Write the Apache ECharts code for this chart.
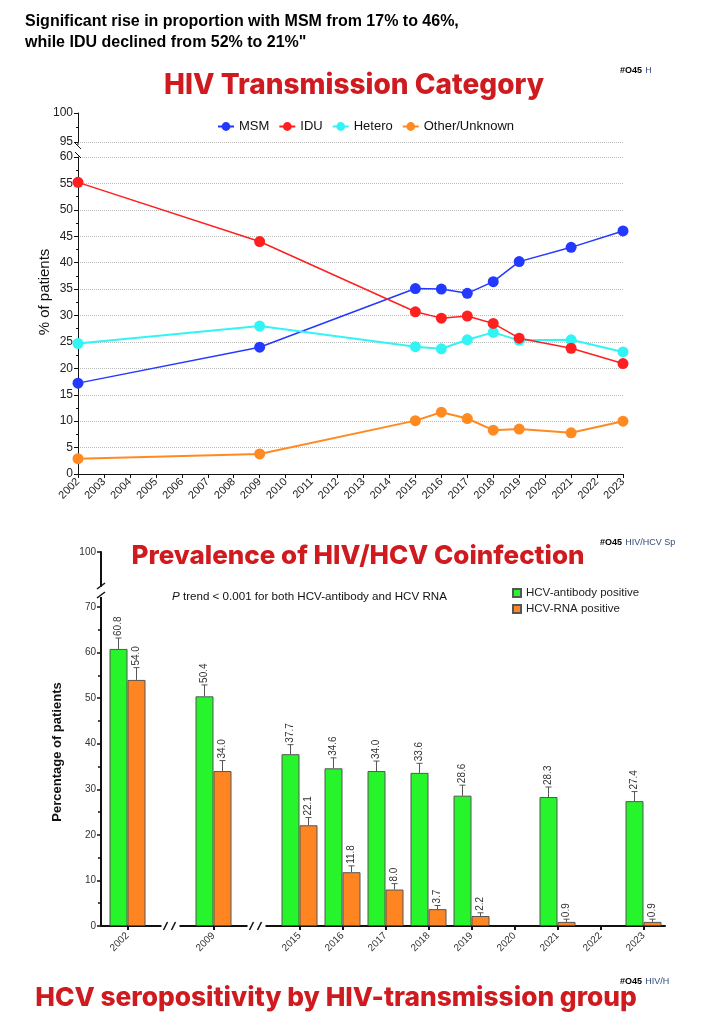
<!DOCTYPE html>
<html><head><meta charset="utf-8">
<script src="https://cdn.jsdelivr.net/npm/echarts@6/dist/echarts.min.js"></script>
<style>html,body{margin:0;padding:0;background:#fff}#c{width:714px;height:1027px}</style>
</head><body><div id="c"></div>
<script>
// ---------- Data: HIV transmission category (% of patients) ----------
const years = ['2002','2003','2004','2005','2006','2007','2008','2009','2010','2011','2012','2013','2014','2015','2016','2017','2018','2019','2020','2021','2022','2023'];
const surveyYears = ['2002','2009','2015','2016','2017','2018','2019','2021','2023'];
const msm    = [17.2, 24.0, 35.1, 35.0, 34.2, 36.4, 40.2, 42.9, 46.0];
const idu    = [55.2, 44.0, 30.7, 29.5, 29.9, 28.5, 25.7, 23.8, 20.9];
const hetero = [24.7, 28.0, 24.1, 23.7, 25.4, 26.8, 25.3, 25.4, 23.1];
const other  = [2.9, 3.8, 10.1, 11.7, 10.5, 8.3, 8.5, 7.8, 10.0];

// ---------- Data: HIV/HCV coinfection prevalence ----------
const hcvYears   = ['2002','2009','2015','2016','2017','2018','2019','2020','2021','2022','2023'];
const hcvAb      = [60.8, 50.4, 37.7, 34.6, 34.0, 33.6, 28.6, null, 28.3, null, 27.4];
const hcvAbErr   = [63.2, 52.9, 39.8, 36.9, 36.2, 35.7, 30.9, null, 30.5, null, 29.5];
const hcvRna     = [54.0, 34.0, 22.1, 11.8, 8.0, 3.7, 2.2, null, 0.9, null, 0.9];
const hcvRnaErr  = [56.7, 36.3, 23.8, 13.2, 9.3, 4.5, 2.9, null, 1.5, null, 1.5];
const breakAfter = ['2002','2009'];

// ---------- Build axis slots (break placeholders) ----------
const slots = [];
const slotOfYear = {};
hcvYears.forEach((y, i) => {
  slotOfYear[y] = slots.length;
  slots.push(y);
  if (breakAfter.includes(y)) slots.push('~' + i);
});
const breakSlots = slots.map((s, i) => s.startsWith('~') ? i : -1).filter(i => i >= 0);
function slotData(arr) {
  const out = slots.map(() => null);
  hcvYears.forEach((y, i) => { out[slotOfYear[y]] = arr[i]; });
  return out;
}
function errData(vals, errs) {
  const out = [];
  hcvYears.forEach((y, i) => { if (vals[i] != null) out.push([slotOfYear[y], vals[i], errs[i]]); });
  return out;
}
const pairs = arr => surveyYears.map((y, i) => [y, arr[i]]);

const FONT = 'Liberation Sans, Arial, sans-serif';
const TITLE_FONT = 'Inter, Lato, sans-serif';
const RED = '#cf1b20';

function errSeries(name, vals, errs, off) {
  return {
    type: 'custom', name: name + ' err', xAxisIndex: 2, yAxisIndex: 2, z: 5,
    data: errData(vals, errs),
    renderItem(params, api) {
      const base = api.coord([api.value(0), api.value(1)]);
      const top = api.coord([api.value(0), api.value(2)]);
      const cx = base[0] + off;
      return { type: 'group', children: [
        { type: 'line', shape: { x1: cx, y1: base[1], x2: cx, y2: top[1] }, style: { stroke: '#555', lineWidth: 1 } },
        { type: 'line', shape: { x1: cx - 3, y1: top[1], x2: cx + 3, y2: top[1] }, style: { stroke: '#555', lineWidth: 1 } },
        { type: 'text', x: cx, y: top[1] - 2, rotation: Math.PI / 2,
          style: { text: api.value(1).toFixed(1), font: '10px ' + FONT, fill: '#333', align: 'left', verticalAlign: 'middle' } }
      ]};
    }
  };
}

const chart = echarts.init(document.getElementById('c'), null, { renderer: 'canvas' });
const option = {
  animation: false,
  backgroundColor: '#fff',
  textStyle: { fontFamily: FONT },
  grid: [
    { left: 78, right: 91, top: 113, height: 29 },
    { left: 78, right: 91, top: 157, height: 317 },
    { left: 106, width: 559, top: 607, height: 319 },
    { left: 106, width: 559, top: 552, height: 34 }
  ],
  legend: [
    { data: ['MSM', 'IDU', 'Hetero', 'Other/Unknown'], left: 212, top: 115, itemWidth: 16, itemHeight: 11, itemGap: 9,
      textStyle: { fontSize: 13, color: '#111', fontFamily: FONT } },
    { data: ['HCV-antibody positive', 'HCV-RNA positive'], orient: 'vertical', left: 507, top: 582, itemWidth: 8, itemHeight: 8, itemGap: 4,
      icon: 'rect', textStyle: { fontSize: 11.5, color: '#222', fontFamily: FONT } }
  ],
  xAxis: [
    { gridIndex: 0, type: 'category', data: years, boundaryGap: false, show: false },
    { gridIndex: 1, type: 'category', data: years, boundaryGap: false,
      axisLine: { lineStyle: { color: '#111', width: 1 } },
      axisTick: { show: true, length: 4, interval: 0, lineStyle: { color: '#111' } },
      axisLabel: { rotate: 45, interval: 0, fontSize: 11, color: '#222', margin: 6 } },
    { gridIndex: 2, type: 'category', data: slots, boundaryGap: true,
      axisLine: { lineStyle: { color: '#111', width: 2 } },
      axisTick: { show: true, alignWithLabel: true, length: 4, interval: (i, v) => !String(v).startsWith('~'), lineStyle: { color: '#111', width: 2 } },
      axisLabel: { rotate: 45, interval: 0, fontSize: 10, color: '#333', margin: 8,
        formatter: v => v.startsWith('~') ? '' : v } },
    { gridIndex: 3, type: 'category', data: slots, show: false }
  ],
  yAxis: [
    { gridIndex: 0, type: 'value', min: 95, max: 100, interval: 5,
      axisLine: { show: true, lineStyle: { color: '#111' } },
      axisTick: { show: true, length: 4, lineStyle: { color: '#111' } },
      minorTick: { show: true, splitNumber: 2, length: 2, lineStyle: { color: '#111' } },
      splitLine: { show: true, showMaxLine: false, lineStyle: { type: 'dotted', color: '#bbb' } },
      axisLabel: { fontSize: 12, color: '#222', margin: 5 } },
    { gridIndex: 1, type: 'value', min: 0, max: 60, interval: 5,
      axisLine: { show: true, lineStyle: { color: '#111' } },
      axisTick: { show: true, length: 4, lineStyle: { color: '#111' } },
      minorTick: { show: true, splitNumber: 2, length: 2, lineStyle: { color: '#111' } },
      splitLine: { show: true, showMinLine: false, lineStyle: { type: 'dotted', color: '#bbb' } },
      axisLabel: { fontSize: 12, color: '#222', margin: 5 } },
    { gridIndex: 2, type: 'value', min: 0, max: 70, interval: 10, offset: 5,
      axisLine: { show: true, lineStyle: { color: '#111', width: 2 } },
      axisTick: { show: true, length: 4, lineStyle: { color: '#111', width: 1.5 } },
      minorTick: { show: true, splitNumber: 2, length: 3, lineStyle: { color: '#111', width: 1.5 } },
      splitLine: { show: false },
      axisLabel: { fontSize: 10, color: '#333', margin: 5 } },
    { gridIndex: 3, type: 'value', min: 90, max: 100, interval: 10, offset: 5,
      axisLine: { show: true, lineStyle: { color: '#111', width: 2 } },
      axisTick: { show: true, length: 4, customValues: [100], lineStyle: { color: '#111', width: 1.5 } },
      splitLine: { show: false },
      axisLabel: { fontSize: 10, color: '#333', margin: 5, customValues: [100], formatter: v => v === 100 ? '100' : '' } }
  ],
  series: [
    { name: 'MSM', type: 'line', xAxisIndex: 1, yAxisIndex: 1, data: pairs(msm), symbol: 'circle', symbolSize: 11,
      itemStyle: { color: '#2339ff' }, lineStyle: { width: 1.5, color: '#2339ff' } },
    { name: 'Hetero', type: 'line', xAxisIndex: 1, yAxisIndex: 1, data: pairs(hetero), symbol: 'circle', symbolSize: 11,
      itemStyle: { color: '#33f4f4' }, lineStyle: { width: 2, color: '#33f4f4' } },
    { name: 'IDU', type: 'line', xAxisIndex: 1, yAxisIndex: 1, data: pairs(idu), symbol: 'circle', symbolSize: 11,
      itemStyle: { color: '#ff1f1f' }, lineStyle: { width: 1.5, color: '#ff1f1f' } },
    { name: 'Other/Unknown', type: 'line', xAxisIndex: 1, yAxisIndex: 1, data: pairs(other), symbol: 'circle', symbolSize: 11,
      itemStyle: { color: '#ff8a22' }, lineStyle: { width: 2, color: '#ff8a22' } },
    { name: 'HCV-antibody positive', type: 'bar', xAxisIndex: 2, yAxisIndex: 2, data: slotData(hcvAb), barWidth: 18, barGap: '0%',
      itemStyle: { color: '#27f52c', borderColor: '#555', borderWidth: 1 } },
    { name: 'HCV-RNA positive', type: 'bar', xAxisIndex: 2, yAxisIndex: 2, data: slotData(hcvRna), barWidth: 18, barGap: '0%',
      itemStyle: { color: '#ff8422', borderColor: '#555', borderWidth: 1 } },
    errSeries('ab', hcvAb, hcvAbErr, -9),
    errSeries('rna', hcvRna, hcvRnaErr, 9)
  ]
};
chart.setOption(option);

// ---------- Decorations (texts, axis breaks) ----------
const g = [];
const txt = (x, y, text, font, fill, align, extra) => g.push(Object.assign({ type: 'text', x, y,
  style: { text, font, fill, align: align || 'left', verticalAlign: 'middle' } }, extra || {}));

txt(25, 22, 'Significant rise in proportion with MSM from 17% to 46%,', 'bold 16px Liberation Sans Narrow, Liberation Sans, Arial', '#000');
txt(25, 43, 'while IDU declined from 52% to 21%"', 'bold 16px Liberation Sans Narrow, Liberation Sans, Arial', '#000');
txt(354, 86, 'HIV Transmission Category', '800 28px ' + TITLE_FONT, RED, 'center');
txt(358, 556, 'Prevalence of HIV/HCV Coinfection', '800 26px ' + TITLE_FONT, RED, 'center');
txt(336, 998, 'HCV seropositivity by HIV-transmission group', '800 26.3px ' + TITLE_FONT, RED, 'center');

const code = (x, y, tail) => g.push({ type: 'text', x, y, style: {
  text: '{a|#O45} {b|' + tail + '}', verticalAlign: 'middle',
  rich: { a: { font: 'bold 9px ' + FONT, fill: '#000' }, b: { font: '9px ' + FONT, fill: '#334a7a' } } } });
code(620, 71, 'H');
code(600, 543, 'HIV/HCV Sp');
code(620, 982, 'HIV/H');

txt(45, 292, '% of patients', '15px ' + FONT, '#111', 'center', { rotation: Math.PI / 2 });
txt(57, 752, 'Percentage of patients', 'bold 13px ' + FONT, '#111', 'center', { rotation: Math.PI / 2 });

g.push({ type: 'text', x: 172, y: 597, style: {
  text: '{i|P} trend < 0.001 for both HCV-antibody and HCV RNA', verticalAlign: 'middle',
  font: '11.6px ' + FONT, fill: '#111',
  rich: { i: { font: 'italic 11.6px ' + FONT, fill: '#111' } } } });

const line = (x1, y1, x2, y2, w) => g.push({ type: 'line', shape: { x1, y1, x2, y2 }, style: { stroke: '#111', lineWidth: w || 1 }, z: 10 });

// top chart y-axis break
const ax = chart.convertToPixel({ xAxisIndex: 1 }, 0);
const p95 = chart.convertToPixel({ yAxisIndex: 0 }, 95);
const p60 = chart.convertToPixel({ yAxisIndex: 1 }, 60);
line(ax, p95, ax, p95 + 3);
line(ax - 3, p95 + 1, ax + 3, p95 + 7);
line(ax - 3, p60 - 5, ax + 3, p60 + 1);

// bottom chart y-axis break
const byx = 106 - 5;
const p70 = chart.convertToPixel({ yAxisIndex: 2 }, 70);
const p90 = chart.convertToPixel({ yAxisIndex: 3 }, 90);
line(byx, p70, byx, p70 - 10, 2);
line(byx - 4, p90 + 3, byx + 4, p90 - 3, 1.5);
line(byx - 4, p70 - 9, byx + 4, p70 - 15, 1.5);

// bottom chart x-axis: extend to y-axis and draw breaks
const p0 = chart.convertToPixel({ yAxisIndex: 2 }, 0);
line(byx, p0, 106, p0, 2);
breakSlots.forEach(s => {
  const cx = chart.convertToPixel({ xAxisIndex: 2 }, s);
  g.push({ type: 'rect', shape: { x: cx - 9, y: p0 - 3, width: 18, height: 6 }, style: { fill: '#fff' }, z: 9 });
  line(cx - 7, p0 + 4, cx - 3, p0 - 4, 1.5);
  line(cx + 1, p0 + 4, cx + 5, p0 - 4, 1.5);
});

chart.setOption({ graphic: g });
</script>
</body></html>
